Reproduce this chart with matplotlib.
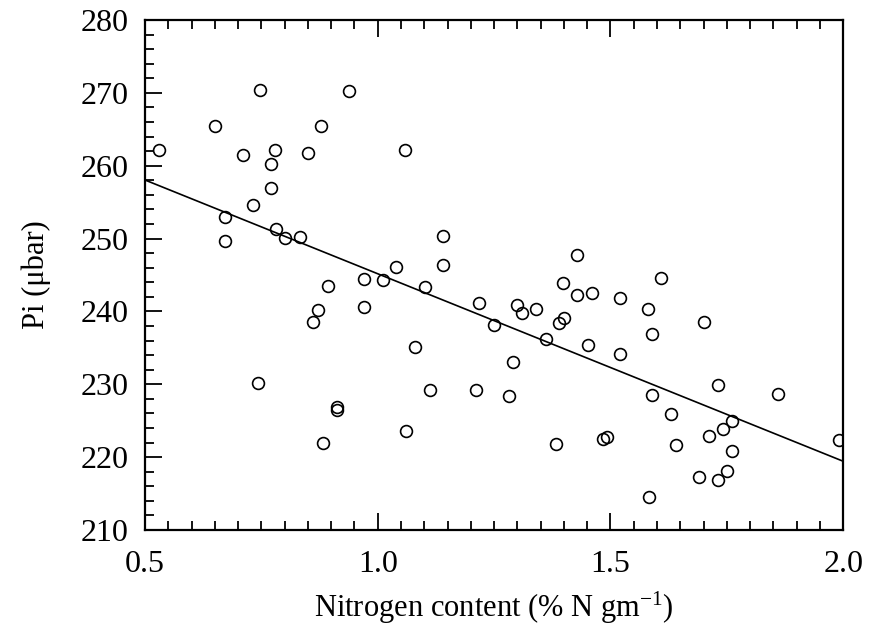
import numpy as np
import matplotlib
matplotlib.use("Agg")
import matplotlib.pyplot as plt
from matplotlib.ticker import MultipleLocator

plt.rcParams['font.family'] = ['Liberation Serif', 'DejaVu Serif']
plt.rcParams['mathtext.default'] = 'regular'

# nitrogen content (% N gm-1) and Pi (ubar)
nitrogen = [0.531, 0.650, 0.748, 0.938, 0.878, 0.711, 0.779, 0.851, 1.059, 0.770,
            0.770, 0.731, 0.672, 0.672, 0.781, 0.801, 0.832, 1.140, 1.140, 1.039,
            0.971, 1.012, 0.893, 1.101, 1.218, 0.872, 0.861, 0.971, 1.081, 0.742,
            1.112, 1.211, 0.913, 0.913, 1.061, 0.882, 1.399, 1.609, 1.429, 1.429,
            1.460, 1.521, 1.250, 1.300, 1.310, 1.340, 1.361, 1.390, 1.400, 1.580,
            1.589, 1.700, 1.451, 1.521, 1.290, 1.281, 1.731, 1.861, 1.590, 1.630,
            1.741, 1.761, 1.711, 1.992, 1.382, 1.483, 1.492, 1.641, 1.761, 1.690,
            1.731, 1.750, 1.583]
pi_ubar = [262.2, 265.4, 270.4, 270.2, 265.5, 261.4, 262.2, 261.8, 262.2, 260.3,
           256.9, 254.6, 253.0, 249.6, 251.3, 250.1, 250.2, 250.4, 246.4, 246.1,
           244.4, 244.3, 243.5, 243.3, 241.1, 240.2, 238.5, 240.6, 235.1, 230.2,
           229.2, 229.2, 226.9, 226.5, 223.6, 222.0, 243.9, 244.6, 247.8, 242.2,
           242.5, 241.9, 238.1, 240.9, 239.8, 240.3, 236.2, 238.4, 239.1, 240.3,
           236.9, 238.5, 235.4, 234.1, 233.0, 228.4, 229.9, 228.7, 228.5, 225.9,
           223.8, 224.9, 222.9, 222.4, 221.8, 222.5, 222.7, 221.6, 220.8, 217.3,
           216.9, 218.1, 214.6]

# regression line: Pi = intercept + slope * N
intercept = 270.9
slope = -25.73
line_x = [0.5, 2.0]

fig = plt.figure(figsize=(8.71, 6.3), dpi=100)
ax = fig.add_axes([0.1665, 0.1587, 0.8015, 0.8096])

ax.plot(nitrogen, pi_ubar, 'o', mfc='none', mec='black', ms=8.5, mew=1.2)
ax.plot(line_x, intercept + slope * np.array(line_x), color='black', lw=1.2)

ax.set_xlim(0.5, 2.0)
ax.set_ylim(210, 280)
ax.xaxis.set_major_locator(MultipleLocator(0.5))
ax.xaxis.set_minor_locator(MultipleLocator(0.05))
ax.yaxis.set_major_locator(MultipleLocator(10))
ax.yaxis.set_minor_locator(MultipleLocator(2))
ax.xaxis.set_major_formatter(matplotlib.ticker.FormatStrFormatter('%.1f'))

ax.tick_params(which='both', direction='in', top=True, right=False, width=1.3,
               labelsize=23)
ax.tick_params(which='major', length=12.5)
ax.tick_params(which='minor', length=6.5)
ax.tick_params(axis='x', which='major', pad=14.5)
ax.tick_params(axis='y', which='major', pad=12)
for s in ax.spines.values():
    s.set_linewidth(1.6)

ax.set_xlabel('Nitrogen content (% N gm$^{-1}$)', fontsize=22, labelpad=7.5)
ax.set_ylabel('Pi (\u03bcbar)', fontsize=22, labelpad=21)

fig.savefig('out.png', dpi=100)
